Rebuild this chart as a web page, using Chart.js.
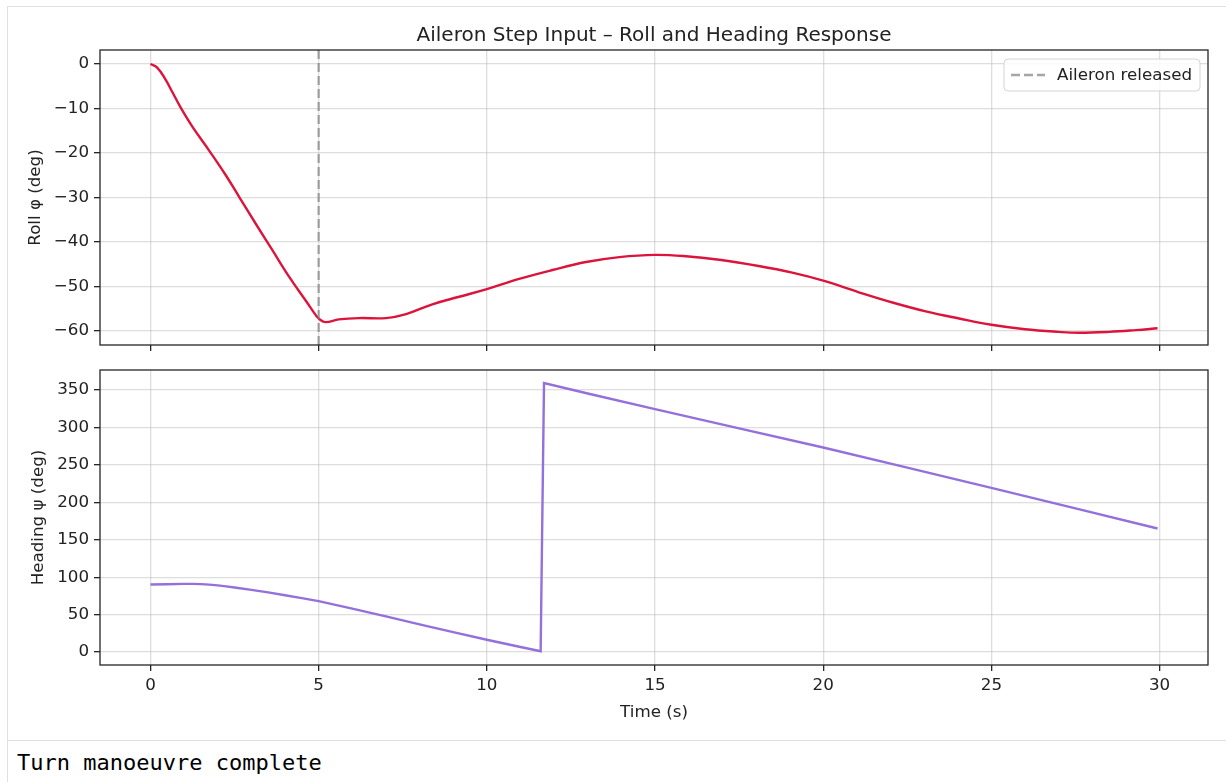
<!DOCTYPE html>
<html>
<head>
<meta charset="utf-8">
<title>Aileron Step Input</title>
<script src="https://cdn.jsdelivr.net/npm/chart.js"></script>
<style>
  html, body { margin: 0; padding: 0; background: #fff; }
  #page { position: relative; width: 1226px; height: 782px; overflow: hidden; }
  .frame-top { position: absolute; left: 7px; top: 6px; right: 0; border-top: 1px solid #e0e0e0; }
  .frame-left { position: absolute; left: 7px; top: 6px; bottom: 0; border-left: 1px solid #e0e0e0; }
  .frame-sep { position: absolute; left: 7px; right: 0; top: 740px; border-top: 1px solid #e0e0e0; }
  #roll-wrap { position: absolute; left: 0; top: 0; width: 1226px; height: 360px; }
  #heading-wrap { position: absolute; left: 0; top: 360px; width: 1226px; height: 380px; }
  #status { position: absolute; left: 17px; top: 750px; font-family: 'DejaVu Sans Mono', monospace;
            font-size: 22px; line-height: 26px; color: #000; white-space: pre; }
</style>
</head>
<body>
<div id="page">
  <div class="frame-top"></div>
  <div class="frame-left"></div>
  <div class="frame-sep"></div>
  <div id="roll-wrap"><canvas id="roll-chart" width="1226" height="360"></canvas></div>
  <div id="heading-wrap"><canvas id="heading-chart" width="1226" height="380"></canvas></div>
  <div id="status">Turn manoeuvre complete</div>
</div>
<script>
// values
const rollTime = [0, 0.2, 0.45, 0.65, 0.9, 1.24, 1.74, 2.24, 2.64, 3.13, 3.63, 4.13, 4.62, 4.92, 5.02,
    5.2, 5.6, 6.2, 7.0, 7.6, 8.38, 9.18, 10, 10.96, 11.95, 12.95, 13.94, 15, 15.92, 16.91, 18.08,
    19.08, 20, 21.06, 22.06, 23.05, 24.04, 25, 26, 27, 27.6, 28.5, 29.3, 29.94];
const rollDeg = [0, -0.8, -3.5, -6.3, -9.8, -14.0, -19.4, -25.0, -29.9, -35.9, -41.9, -47.9, -53.2, -56.5, -57.3,
    -58.0, -57.4, -57.1, -57.1, -56.2, -54.0, -52.3, -50.6, -48.3, -46.3, -44.5, -43.4, -42.9, -43.2, -44.0, -45.4,
    -46.9, -48.7, -51.3, -53.6, -55.6, -57.2, -58.6, -59.6, -60.2, -60.4, -60.2, -59.8, -59.4];

const headingTime = [0, 0.5, 1.0, 1.25, 1.5, 1.75, 2.0, 2.25, 2.5, 3.0, 3.5, 4.0, 4.5, 5.0, 6.0, 7.0, 8.0, 9.0,
    10.0, 11.0, 11.6, 11.7, 13, 15, 17.5, 20, 22.5, 25, 27.5, 29.94];
const headingDeg = [90.2, 90.6, 91.0, 91.0, 90.7, 90.0, 89.0, 87.7, 86.2, 83.0, 79.7, 75.9, 72.0, 68.0, 58.0, 47.6,
    37.0, 26.6, 16.3, 6.6, 1.0, 359.5, 345.5, 324.5, 298.8, 273.3, 246.5, 219.4, 192.0, 165.0];

const releaseTime = 5;
const timeTicks = [0, 5, 10, 15, 20, 25, 30];
const rollTicks = [0, -10, -20, -30, -40, -50, -60];
const headingTicks = [0, 50, 100, 150, 200, 250, 300, 350];

const timeRange = [-1.5, 31.44];
const rollRange = [-63.15, 3.15];
const headingRange = [-17.4, 376.9];

const chartTitle = 'Aileron Step Input \u2013 Roll and Heading Response';
const legendLabel = 'Aileron released';

const FONT = "'DejaVu Sans', sans-serif";
const TEXT = '#222';
const GRID = 'rgba(176,176,176,0.42)';
const SPINE = '#262626';

Chart.defaults.font.family = FONT;
Chart.defaults.color = TEXT;

function points(xs, ys) {
    return xs.map((x, i) => ({ x: x, y: ys[i] }));
}

function setTicks(values) {
    return s => { s.ticks = values.map(v => ({ value: v })); };
}

function fixedWidth(w) {
    return s => { s.width = w; s.paddingTop = 0; s.paddingBottom = 0; };
}

function fixedHeight(h) {
    return s => { s.height = h; s.paddingLeft = 0; s.paddingRight = 0; };
}

function minusLabel(v) {
    return v < 0 ? '\u2212' + Math.abs(v) : String(v);
}

const gridOpts = {
    color: GRID,
    lineWidth: 1.33,
    tickColor: SPINE,
    tickLength: 6,
    tickWidth: 1.3
};

// spines on all four sides
const framePlugin = {
    id: 'frame',
    afterDatasetsDraw(chart) {
        const { ctx, chartArea: a } = chart;
        ctx.save();
        ctx.strokeStyle = SPINE;
        ctx.lineWidth = 1.3;
        ctx.strokeRect(a.left, a.top, a.right - a.left, a.bottom - a.top);
        ctx.restore();
    }
};

// matplotlib-style legend box for the release marker
const legendPlugin = {
    id: 'releaseLegend',
    afterDraw(chart) {
        const { ctx, chartArea: a } = chart;
        const ds = chart.data.datasets.find(d => d.label === legendLabel);
        ctx.save();
        ctx.font = '16.7px ' + FONT;
        const textW = ctx.measureText(legendLabel).width;
        const w = 7 + 34 + 12 + textW + 8;
        const h = 32;
        const x = a.right - 8 - w;
        const y = a.top + 9;
        ctx.beginPath();
        ctx.roundRect(x, y, w, h, 4);
        ctx.fillStyle = 'rgba(255,255,255,0.85)';
        ctx.fill();
        ctx.strokeStyle = '#d4d4d4';
        ctx.lineWidth = 1;
        ctx.stroke();

        ctx.beginPath();
        ctx.setLineDash(ds.borderDash);
        ctx.strokeStyle = ds.borderColor;
        ctx.lineWidth = ds.borderWidth;
        ctx.moveTo(x + 7, y + h / 2);
        ctx.lineTo(x + 41, y + h / 2);
        ctx.stroke();
        ctx.setLineDash([]);

        ctx.fillStyle = TEXT;
        ctx.textBaseline = 'middle';
        ctx.fillText(legendLabel, x + 53, y + h / 2 + 1);
        ctx.restore();
    }
};

const rollChart = new Chart(document.getElementById('roll-chart'), {
    type: 'line',
    data: {
        datasets: [{
            label: 'Roll',
            data: points(rollTime, rollDeg),
            borderColor: '#dc143c',
            borderWidth: 2.4,
            pointRadius: 0,
            tension: 0.4,
            order: 1
        }, {
            label: legendLabel,
            data: points([releaseTime, releaseTime], rollRange),
            borderColor: 'rgba(128,128,128,0.7)',
            borderWidth: 2.3,
            borderDash: [9, 4],
            pointRadius: 0,
            order: 0
        }]
    },
    options: {
        responsive: false,
        animation: false,
        devicePixelRatio: 1,
        layout: { padding: { left: 26, right: 18, top: 0, bottom: 0 } },
        plugins: {
            legend: { display: false },
            tooltip: { enabled: false },
            title: {
                display: true,
                fullSize: false,
                text: chartTitle,
                color: TEXT,
                font: { size: 20, weight: 'normal' },
                padding: { top: 24, bottom: 2 }
            }
        },
        scales: {
            x: {
                type: 'linear',
                min: timeRange[0],
                max: timeRange[1],
                afterBuildTicks: setTicks(timeTicks),
                afterFit: fixedHeight(15),
                ticks: { display: false },
                grid: gridOpts,
                border: { display: false }
            },
            y: {
                type: 'linear',
                min: rollRange[0],
                max: rollRange[1],
                afterBuildTicks: setTicks(rollTicks),
                afterFit: fixedWidth(74),
                ticks: { callback: minusLabel, font: { size: 16.7 }, color: TEXT, padding: 5 },
                grid: gridOpts,
                border: { display: false },
                title: { display: true, text: 'Roll \u03c6 (deg)', font: { size: 16.7 }, color: TEXT, padding: 0 }
            }
        }
    },
    plugins: [framePlugin, legendPlugin]
});

const headingChart = new Chart(document.getElementById('heading-chart'), {
    type: 'line',
    data: {
        datasets: [{
            label: 'Heading',
            data: points(headingTime, headingDeg),
            borderColor: '#9370db',
            borderWidth: 2.4,
            pointRadius: 0,
            tension: 0
        }]
    },
    options: {
        responsive: false,
        animation: false,
        devicePixelRatio: 1,
        layout: { padding: { left: 29, right: 18, top: 10, bottom: 17 } },
        plugins: {
            legend: { display: false },
            tooltip: { enabled: false }
        },
        scales: {
            x: {
                type: 'linear',
                min: timeRange[0],
                max: timeRange[1],
                afterBuildTicks: setTicks(timeTicks),
                afterFit: fixedHeight(58),
                ticks: { callback: minusLabel, font: { size: 16.7 }, color: TEXT, padding: 5, maxRotation: 0 },
                grid: gridOpts,
                border: { display: false },
                title: { display: true, text: 'Time (s)', font: { size: 16.7 }, color: TEXT, padding: 0 }
            },
            y: {
                type: 'linear',
                min: headingRange[0],
                max: headingRange[1],
                afterBuildTicks: setTicks(headingTicks),
                afterFit: fixedWidth(71),
                ticks: { callback: minusLabel, font: { size: 16.7 }, color: TEXT, padding: 5 },
                grid: gridOpts,
                border: { display: false },
                title: { display: true, text: 'Heading \u03c8 (deg)', font: { size: 16.7 }, color: TEXT, padding: 0 }
            }
        }
    },
    plugins: [framePlugin]
});
</script>
</body>
</html>
